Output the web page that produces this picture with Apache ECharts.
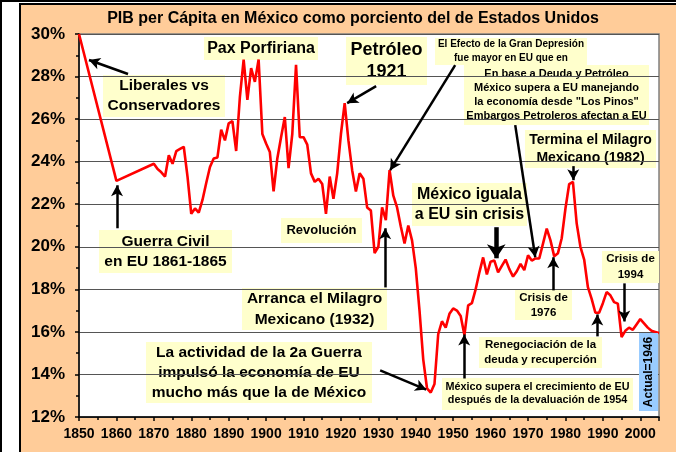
<!DOCTYPE html>
<html>
<head>
<meta charset="utf-8">
<script src="https://cdn.jsdelivr.net/npm/echarts@6/dist/echarts.min.js"></script>
<style>
  html, body { margin: 0; padding: 0; background: #fff; }
  #edgeTop { position: absolute; left: 0; top: 0; width: 676px; height: 2px; background: #000; }
  #edgeLeft { position: absolute; left: 0; top: 0; width: 2px; height: 452px; background: #000; }
  #panel { position: absolute; left: 19px; top: 3px; width: 657px; height: 449px; box-sizing: border-box;
           border-left: 2px solid #000; border-top: 2px solid #000; background: #FFCC99; }
  #chart { position: absolute; left: 0; top: 0; width: 676px; height: 452px; }
</style>
</head>
<body>
<div id="edgeTop"></div>
<div id="edgeLeft"></div>
<div id="panel"></div>
<div id="chart"></div>
<script>
// PIB per cápita de México como % del de EU
const years = [1850, 1860,
  1870, 1871, 1872, 1873, 1874, 1875, 1876, 1877, 1878, 1879,
  1880, 1881, 1882, 1883, 1884, 1885, 1886, 1887, 1888, 1889,
  1890, 1891, 1892, 1893, 1894, 1895, 1896, 1897, 1898, 1899,
  1900, 1901, 1902, 1903, 1904, 1905, 1906, 1907, 1908, 1909,
  1910, 1911, 1912, 1913, 1914, 1915, 1916, 1917, 1918, 1919,
  1920, 1921, 1922, 1923, 1924, 1925, 1926, 1927, 1928, 1929,
  1930, 1931, 1932, 1933, 1934, 1935, 1936, 1937, 1938, 1939,
  1940, 1941, 1942, 1943, 1944, 1945, 1946, 1947, 1948, 1949,
  1950, 1951, 1952, 1953, 1954, 1955, 1956, 1957, 1958, 1959,
  1960, 1961, 1962, 1963, 1964, 1965, 1966, 1967, 1968, 1969,
  1970, 1971, 1972, 1973, 1974, 1975, 1976, 1977, 1978, 1979,
  1980, 1981, 1982, 1983, 1984, 1985, 1986, 1987, 1988, 1989,
  1990, 1991, 1992, 1993, 1994, 1995, 1996, 1997, 1998, 1999,
  2000, 2001, 2002, 2003, 2004, 2005]
const pib = [30.0, 23.1,
  23.9, 23.65, 23.5, 23.3, 24.3, 23.9, 24.5, 24.6, 24.7, 23.3,
  21.55, 21.8, 21.6, 22.2, 23.0, 23.75, 24.15, 24.2, 25.5, 25.0,
  25.8, 25.9, 24.5, 27.05, 28.8, 26.9, 28.4, 27.75, 28.8, 25.3,
  24.85, 24.45, 22.6, 24.15, 25.15, 26.1, 23.7, 25.3, 28.55, 25.15,
  25.15, 24.8, 23.45, 23.05, 23.2, 22.95, 21.55, 23.3, 22.25, 23.45,
  25.3, 26.75, 25.0, 23.6, 22.6, 23.45, 23.2, 21.85, 21.7, 19.7,
  20.0, 21.85, 21.25, 23.6, 22.4, 21.85, 20.95, 20.15, 21.0, 20.3,
  19.0, 17.0, 14.7, 13.35, 13.15, 13.55, 15.9, 16.5, 16.2, 16.85,
  17.1, 17.0, 16.75, 15.85, 17.25, 17.35, 18.0, 18.8, 19.5, 18.7,
  19.3, 19.35, 18.8, 19.1, 19.4, 18.95, 18.6, 18.85, 19.2, 18.9,
  19.6, 19.35, 19.45, 19.45, 20.15, 20.85, 20.3, 19.55, 19.7, 20.4,
  21.8, 22.95, 23.05, 21.1, 20.0, 19.4, 18.1, 17.55, 16.9, 16.9,
  17.35, 17.87, 17.72, 17.4, 17.33, 15.75, 16.05, 16.2, 16.1, 16.35,
  16.6, 16.4, 16.2, 16.05, 16.0, 15.95]

const yTicks = [12, 14, 16, 18, 20, 22, 24, 26, 28, 30]

// flechas: [año inicio, valor inicio, año punta, valor punta]
const arrows = [
  [1863.1, 28.12, 1852.67, 28.78],
  [1929.41, 27.55, 1921.66, 26.75],
  [1950.53, 28.54, 1933.16, 23.6],
  [1966.58, 25.72, 1971.93, 19.51],
  [1982.09, 23.79, 1982.09, 23.13],
  [1860.16, 20.87, 1860.16, 22.89],
  [1931.82, 18.09, 1931.82, 20.87],
  [1930.48, 14.19, 1942.78, 13.29],
  [1976.74, 17.95, 1976.74, 19.51],
  [1995.72, 18.28, 1995.72, 16.49],
  [1988.5, 15.79, 1988.5, 16.82],
  [1952.94, 13.81, 1952.94, 15.88]
]
const bigArrow = [1961.5, 20.92, 1961.5, 19.46]

const FONT = '"Liberation Sans", Arial, sans-serif'

// cuadros de texto (posición en pixeles)
const notes = [
  { x: 204, y: 37, w: 114, h: 23, size: 16, lh: 20, text: ['Pax Porfiriana'] },
  { x: 103, y: 75, w: 122, h: 42, size: 15.5, lh: 20, text: ['Liberales vs', 'Conservadores'] },
  { x: 346, y: 37, w: 81, h: 48, size: 18, lh: 22, text: ['Petróleo', '1921'] },
  { x: 435, y: 38, w: 152, h: 27, size: 10, lh: 14, text: ['El Efecto de la Gran Depresión', 'fue mayor en EU que en'] },
  { x: 464, y: 65, w: 185, h: 60, size: 11, lh: 14, text: ['En base a Deuda y Petróleo', 'México supera a EU manejando', 'la economía desde "Los Pinos"', 'Embargos Petroleros afectan a EU'] },
  { x: 525, y: 130, w: 131, h: 38, size: 14, lh: 18, text: ['Termina el Milagro', 'Mexicano (1982)'] },
  { x: 99, y: 230, w: 133, h: 43, size: 15.5, lh: 20, text: ['Guerra Civil', 'en EU 1861-1865'] },
  { x: 281, y: 218, w: 81, h: 25, size: 13, lh: 16, text: ['Revolución'] },
  { x: 412, y: 183, w: 115, h: 43, size: 16, lh: 20, text: ['México iguala', 'a EU sin crisis'] },
  { x: 242, y: 288, w: 145, h: 42, size: 15.5, lh: 21, text: ['Arranca el Milagro', 'Mexicano (1932)'] },
  { x: 146, y: 342, w: 226, h: 61, size: 15.5, lh: 20, text: ['La actividad de la 2a Guerra', 'impulsó la economía de EU', 'mucho más que la de México'] },
  { x: 515, y: 290, w: 57, h: 30, size: 11.5, lh: 15, text: ['Crisis de', '1976'] },
  { x: 602, y: 251, w: 57, h: 32, size: 11.5, lh: 16, text: ['Crisis de', '1994'] },
  { x: 479, y: 337, w: 123, h: 31, size: 11.5, lh: 15, text: ['Renegociación de la', 'deuda y recuperción'] },
  { x: 442, y: 378, w: 191, h: 32, size: 10.8, lh: 13, text: ['México supera el crecimiento de EU', 'después de la devaluación de 1954'] }
]

const chart = echarts.init(document.getElementById('chart'))

const noteGraphics = notes.map(n => ({
  type: 'group',
  z: 10,
  children: [
    { type: 'rect', shape: { x: n.x, y: n.y, width: n.w, height: n.h }, style: { fill: '#FFFFCC' } },
    { type: 'text', style: {
        text: n.text.join('\n'), x: n.x + n.w / 2, y: n.y + n.h / 2,
        align: 'center', verticalAlign: 'middle', lineHeight: n.lh,
        font: 'bold ' + n.size + 'px ' + FONT, fill: '#000' } }
  ]
}))

const arrowData = arrows.map(a => [
  { coord: [a[0], a[1]], symbol: 'none' },
  { coord: [a[2], a[3]], symbol: 'arrow', symbolSize: [9, 11] }
])
arrowData.push([
  { coord: [bigArrow[0], bigArrow[1]], symbol: 'none', lineStyle: { width: 4.5 } },
  { coord: [bigArrow[2], bigArrow[3]], symbol: 'arrow', symbolSize: [14, 14] }
])

chart.setOption({
  animation: false,
  textStyle: { fontFamily: FONT },
  grid: { left: 79, right: 17, top: 34, bottom: 35, show: true, backgroundColor: '#fff', borderColor: '#808080', borderWidth: 1.5 },
  xAxis: {
    type: 'value', min: 1850, max: 2005, interval: 10,
    axisLine: { show: true, lineStyle: { color: '#000', width: 1.5 } },
    axisTick: { show: true, length: 4, lineStyle: { color: '#000', width: 1.5 } },
    minorTick: { show: true, splitNumber: 2, length: 3, lineStyle: { color: '#000', width: 1.5 } },
    splitLine: { show: false },
    axisLabel: { color: '#000', fontSize: 14, fontWeight: 'bold', margin: 10, showMaxLabel: false, formatter: v => String(v) }
  },
  yAxis: {
    type: 'value', min: yTicks[0], max: yTicks[yTicks.length - 1], interval: 2,
    axisLine: { show: true, lineStyle: { color: '#000', width: 1.5 } },
    axisTick: { show: true, length: 4, lineStyle: { color: '#000', width: 1.5 } },
    minorTick: { show: true, splitNumber: 2, length: 3, lineStyle: { color: '#000', width: 1.5 } },
    splitLine: { show: true, lineStyle: { color: '#555', width: 1 } },
    axisLabel: { color: '#000', fontSize: 17, fontWeight: 'bold', margin: 14, formatter: v => v + '%' }
  },
  series: [{
    type: 'line',
    data: years.map((y, i) => [y, pib[i]]),
    showSymbol: false,
    lineStyle: { color: '#FF0000', width: 2.6 },
    z: 3,
    markLine: {
      silent: true,
      symbol: ['none', 'arrow'],
      label: { show: false },
      lineStyle: { color: '#000', width: 2.5, type: 'solid' },
      emphasis: { disabled: true },
      data: arrowData
    }
  }],
  graphic: [
    { type: 'text', z: 10, style: { text: 'PIB per Cápita en México como porciento del de Estados Unidos',
        x: 353, y: 19, align: 'center', verticalAlign: 'middle', font: 'bold 16px ' + FONT, fill: '#000' } },
    ...noteGraphics,
    { type: 'rect', z: 10, shape: { x: 639, y: 333, width: 19, height: 78 }, style: { fill: '#99CCFF' } },
    { type: 'text', z: 11, x: 648.5, y: 372, rotation: Math.PI / 2,
      style: { text: 'Actual=1946', x: 0, y: 0, align: 'center', verticalAlign: 'middle', font: 'bold 12px ' + FONT, fill: '#000' } }
  ]
})
</script>
</body>
</html>
